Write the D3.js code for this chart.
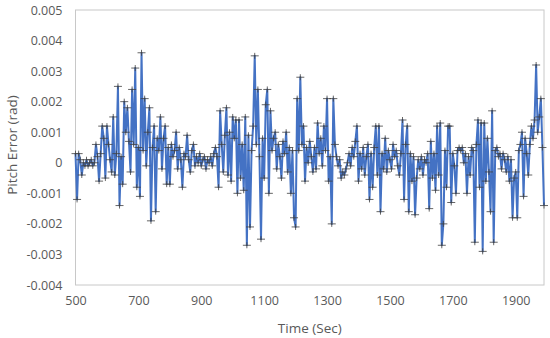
<!DOCTYPE html>
<html><head><meta charset="utf-8">
<script src="https://cdn.jsdelivr.net/npm/d3@7"></script>
<style>body{margin:0;background:#fff}svg{display:block}</style>
</head><body><svg id="c" width="550" height="338"></svg>
<script>
const times = [500,505,510,515,520,525,530,535,540,545,550,555,560,565,570,575,580,585,590,595,
600,605,610,615,620,625,630,635,640,645,650,655,660,665,670,675,680,685,690,695,
700,705,710,715,720,725,730,735,740,745,750,755,760,765,770,775,780,785,790,795,
800,805,810,815,820,825,830,835,840,845,850,855,860,865,870,875,880,885,890,895,
900,905,910,915,920,925,930,935,940,945,950,955,960,965,970,975,980,985,990,995,
1000,1005,1010,1015,1020,1025,1030,1035,1040,1045,1050,1055,1060,1065,1070,1075,1080,1085,1090,1095,
1100,1105,1110,1115,1120,1125,1130,1135,1140,1145,1150,1155,1160,1165,1170,1175,1180,1185,1190,1195,
1200,1205,1210,1215,1220,1225,1230,1235,1240,1245,1250,1255,1260,1265,1270,1275,1280,1285,1290,1295,
1300,1305,1310,1315,1320,1325,1330,1335,1340,1345,1350,1355,1360,1365,1370,1375,1380,1385,1390,1395,
1400,1405,1410,1415,1420,1425,1430,1435,1440,1445,1450,1455,1460,1465,1470,1475,1480,1485,1490,1495,
1500,1505,1510,1515,1520,1525,1530,1535,1540,1545,1550,1555,1560,1565,1570,1575,1580,1585,1590,1595,
1600,1605,1610,1615,1620,1625,1630,1635,1640,1645,1650,1655,1660,1665,1670,1675,1680,1685,1690,1695,
1700,1705,1710,1715,1720,1725,1730,1735,1740,1745,1750,1755,1760,1765,1770,1775,1780,1785,1790,1795,
1800,1805,1810,1815,1820,1825,1830,1835,1840,1845,1850,1855,1860,1865,1870,1875,1880,1885,1890,1895,
1900,1905,1910,1915,1920,1925,1930,1935,1940,1945,1950,1955,1960,1965,1970,1975,1980,1985,1990];

const pitchError = [
0.0003,-0.0012,0.0003,0.0001,-0.0004,0.0000,-0.0001,0.0001,-0.0001,0.0000,0.0001,-0.0001,0.0000,0.0006,0.0002,-0.0006,0.0003,0.0012,0.0008,-0.0005,
0.0012,0.0006,0.0001,-0.0003,0.0015,-0.0004,0.0003,0.0025,-0.0014,0.0002,-0.0007,0.0020,0.0010,0.0018,0.0007,-0.0003,0.0024,0.0006,0.0031,-0.0008,
0.0005,-0.0011,0.0036,0.0004,0.0021,-0.0001,0.0010,0.0018,-0.0019,0.0005,0.0012,-0.0016,0.0008,0.0004,0.0015,-0.0002,0.0008,0.0012,-0.0007,0.0005,
-0.0007,0.0006,0.0002,0.0004,0.0010,-0.0002,0.0005,0.0001,-0.0008,0.0003,0.0002,0.0009,0.0001,-0.0003,0.0004,0.0006,-0.0001,0.0002,0.0000,0.0003,
-0.0001,0.0001,0.0002,-0.0002,0.0001,0.0000,0.0002,-0.0001,0.0003,0.0005,0.0002,-0.0008,0.0017,0.0006,-0.0003,0.0009,0.0018,-0.0004,0.0010,-0.0006,
0.0015,0.0008,0.0014,-0.0010,0.0014,-0.0005,0.0006,-0.0009,0.0015,-0.0027,0.0009,-0.0021,0.0004,0.0012,0.0035,0.0006,0.0024,0.0002,-0.0025,0.0008,
-0.0005,0.0019,0.0024,-0.0010,0.0017,0.0004,0.0008,0.0010,-0.0002,0.0006,0.0002,-0.0005,0.0007,0.0003,0.0010,-0.0003,0.0005,-0.0010,0.0004,-0.0018,
-0.0021,0.0021,0.0004,0.0028,0.0006,0.0012,-0.0006,0.0005,0.0000,0.0007,0.0002,-0.0003,0.0005,-0.0002,0.0013,0.0003,0.0008,-0.0001,0.0012,0.0004,
0.0021,-0.0006,0.0002,-0.0020,0.0021,0.0006,0.0002,-0.0001,0.0001,-0.0005,-0.0003,-0.0004,-0.0002,0.0000,0.0003,-0.0001,0.0005,0.0002,0.0007,0.0012,
-0.0006,0.0003,-0.0002,0.0005,-0.0004,0.0002,0.0006,-0.0012,0.0003,-0.0008,0.0005,0.0012,-0.0004,0.0012,-0.0016,0.0003,-0.0002,0.0008,-0.0003,0.0004,
0.0001,-0.0002,0.0006,0.0002,0.0004,-0.0001,-0.0004,0.0003,0.0014,-0.0012,0.0006,0.0012,-0.0016,0.0003,-0.0006,0.0002,-0.0017,-0.0005,0.0001,-0.0002,
0.0002,-0.0004,0.0001,0.0000,0.0003,-0.0015,0.0007,-0.0005,0.0003,-0.0009,0.0012,-0.0004,0.0013,-0.0027,-0.0020,0.0004,-0.0008,0.0012,0.0012,-0.0013,
0.0003,-0.0001,-0.0010,0.0004,0.0005,0.0004,0.0005,0.0000,0.0003,-0.0010,0.0002,-0.0004,0.0005,0.0004,-0.0026,0.0006,0.0014,-0.0008,0.0013,-0.0029,
0.0013,-0.0006,0.0008,-0.0003,-0.0016,0.0017,-0.0026,0.0004,0.0005,0.0002,0.0003,-0.0002,0.0003,0.0001,-0.0003,0.0002,-0.0006,0.0001,-0.0018,-0.0005,
-0.0003,-0.0018,0.0004,0.0006,0.0010,-0.0011,0.0008,0.0003,-0.0004,0.0006,0.0012,0.0008,0.0014,0.0032,0.0010,0.0015,0.0021,0.0005,-0.0014];

const xTicks = [500,700,900,1100,1300,1500,1700,1900];
const yTicks = [-0.004,-0.003,-0.002,-0.001,0,0.001,0.002,0.003,0.004,0.005];
const yTickLabels = ["-0.004","-0.003","-0.002","-0.001","0","0.001","0.002","0.003","0.004","0.005"];
const xTitle = "Time (Sec)";
const yTitle = "Pitch Error (rad)";

const data = times.map((t,i)=>({t, v: pitchError[i]}));
const svg = d3.select("#c");
const L = 75.5, R = 544, T = 10, B = 285;
const x = d3.scaleLinear().domain([500,1990]).range([L,R]);
const y = d3.scaleLinear().domain([-0.004,0.005]).range([B,T]);
const font = "'Open Sans', 'Liberation Sans', Arial, sans-serif";
const txt = "#595959";

svg.append("rect").attr("x",L).attr("y",T).attr("width",R-L).attr("height",B-T)
  .attr("fill","none").attr("stroke","#c8c8c8").attr("stroke-width",1);

const ya = svg.append("g").attr("transform",`translate(${L},0)`)
  .call(d3.axisLeft(y).tickValues(yTicks).tickSize(0).tickPadding(13)
    .tickFormat((d,i)=>yTickLabels[i]));
ya.select(".domain").remove();
ya.selectAll("text").attr("font-family",font).attr("font-size",12.5).attr("fill",txt);

const xa = svg.append("g").attr("transform",`translate(0,${B})`)
  .call(d3.axisBottom(x).tickValues(xTicks).tickSize(0).tickPadding(11).tickFormat(d3.format("d")));
xa.select(".domain").remove();
xa.selectAll("text").attr("font-family",font).attr("font-size",12.5).attr("fill",txt);

svg.append("path").datum(data)
  .attr("fill","none").attr("stroke","#4472C4").attr("stroke-width",2).attr("stroke-linejoin","round")
  .attr("d", d3.line().x(d=>x(d.t)).y(d=>y(d.v)));

const sh = 4, sv = 3;
svg.append("g").selectAll("path.m").data(data).join("path")
  .attr("class","m")
  .attr("d", d=>`M${x(d.t)-sh},${y(d.v)}H${x(d.t)+sh}M${x(d.t)},${y(d.v)-sv}V${y(d.v)+sv}`)
  .attr("stroke","#404040").attr("stroke-width",1).attr("fill","none").attr("opacity",0.8);

svg.append("text").attr("x",(L+R)/2).attr("y",333).attr("text-anchor","middle")
  .attr("font-family",font).attr("font-size",13.5).attr("fill",txt).text(xTitle);
svg.append("text").attr("transform","translate(17,145) rotate(-90)").attr("text-anchor","middle")
  .attr("font-family",font).attr("font-size",13.5).attr("fill",txt).text(yTitle);
</script></body></html>
